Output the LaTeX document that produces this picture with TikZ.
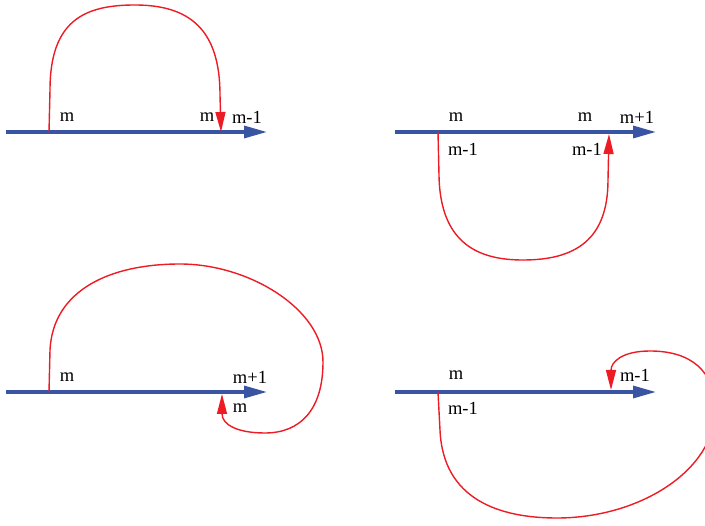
\documentclass[tikz,border=0pt]{standalone}
\usepackage{fontspec}
\setmainfont{Liberation Serif}
\usetikzlibrary{arrows.meta}
\definecolor{axisblue}{HTML}{3A54A4}
\definecolor{loopred}{HTML}{ED1C24}
\tikzset{
  axis/.style={draw=axisblue, line width=3.2pt, -{Triangle[length=23pt,width=12pt]}},
  loop/.style={draw=loopred, line width=1.4pt, -{Triangle[length=20pt,width=10pt]}},
  lbl/.style={inner sep=0pt, font=\fontsize{18.5}{18.5}\selectfont, text=black}
}
\begin{document}
\begin{tikzpicture}[x=1pt,y=-1pt]
\useasboundingbox (0,0) rectangle (705,526);
\clip (0,0) rectangle (705,526);
% ---------- panel 1
\coordinate (a1) at (6,132);
\coordinate (b1) at (267,132);
\coordinate (s1) at (49,132);
\coordinate (e1) at (221,132);
\draw[axis] (a1) -- (b1);
\draw[loop] (s1) -- (50,90) .. controls (50,20) and (85,5) .. (135,5)
  .. controls (190,5) and (220,30) .. (220,95) -- (e1);
\node[lbl] (p1m) at (67,117) {m};
\node[lbl] (p1m2) at (207,117) {m};
\node[lbl] (p1m3) at (247,117) {m-1};
% ---------- panel 2
\coordinate (a2) at (395,132);
\coordinate (b2) at (656,132);
\coordinate (s2) at (438,132);
\coordinate (e2) at (609,134);
\draw[axis] (a2) -- (b2);
\draw[loop] (s2) -- (439,175) .. controls (440,245) and (480,260) .. (523,260)
  .. controls (575,260) and (608,240) .. (608,180) -- (e2);
\node[lbl] (p2m) at (456,117) {m};
\node[lbl] (p2m2) at (585,117) {m};
\node[lbl] (p2m3) at (637,117) {m+1};
\node[lbl] (p2n) at (463,149) {m-1};
\node[lbl] (p2n2) at (587,149) {m-1};
% ---------- panel 3
\coordinate (a3) at (6,392);
\coordinate (b3) at (267,392);
\coordinate (s3) at (49,392);
\coordinate (e3) at (222,394);
\draw[axis] (a3) -- (b3);
\draw[loop] (s3) -- (50,350) .. controls (53,290) and (110,264) .. (180,264)
  .. controls (250,264) and (323,310) .. (323,362)
  .. controls (323,410) and (300,433) .. (265,433)
  .. controls (238,433) and (222,425) .. (e3);
\node[lbl] (p3m) at (67,377) {m};
\node[lbl] (p3m2) at (250,377) {m+1};
\node[lbl] (p3m3) at (240,408) {m};
% ---------- panel 4
\coordinate (a4) at (395,392);
\coordinate (b4) at (656,392);
\coordinate (s4) at (438,392);
\coordinate (e4) at (611,390);
\draw[axis] (a4) -- (b4);
\draw[loop] (s4) -- (440,430) .. controls (443,500) and (500,518) .. (557,518)
  .. controls (640,518) and (715,470) .. (715,410)
  .. controls (715,370) and (690,351) .. (650,351)
  .. controls (622,351) and (611,362) .. (e4);
\node[lbl] (p4m) at (456,375) {m};
\node[lbl] (p4m2) at (635,375) {m-1};
\node[lbl] (p4n) at (463,408) {m-1};
\end{tikzpicture}
\end{document}
